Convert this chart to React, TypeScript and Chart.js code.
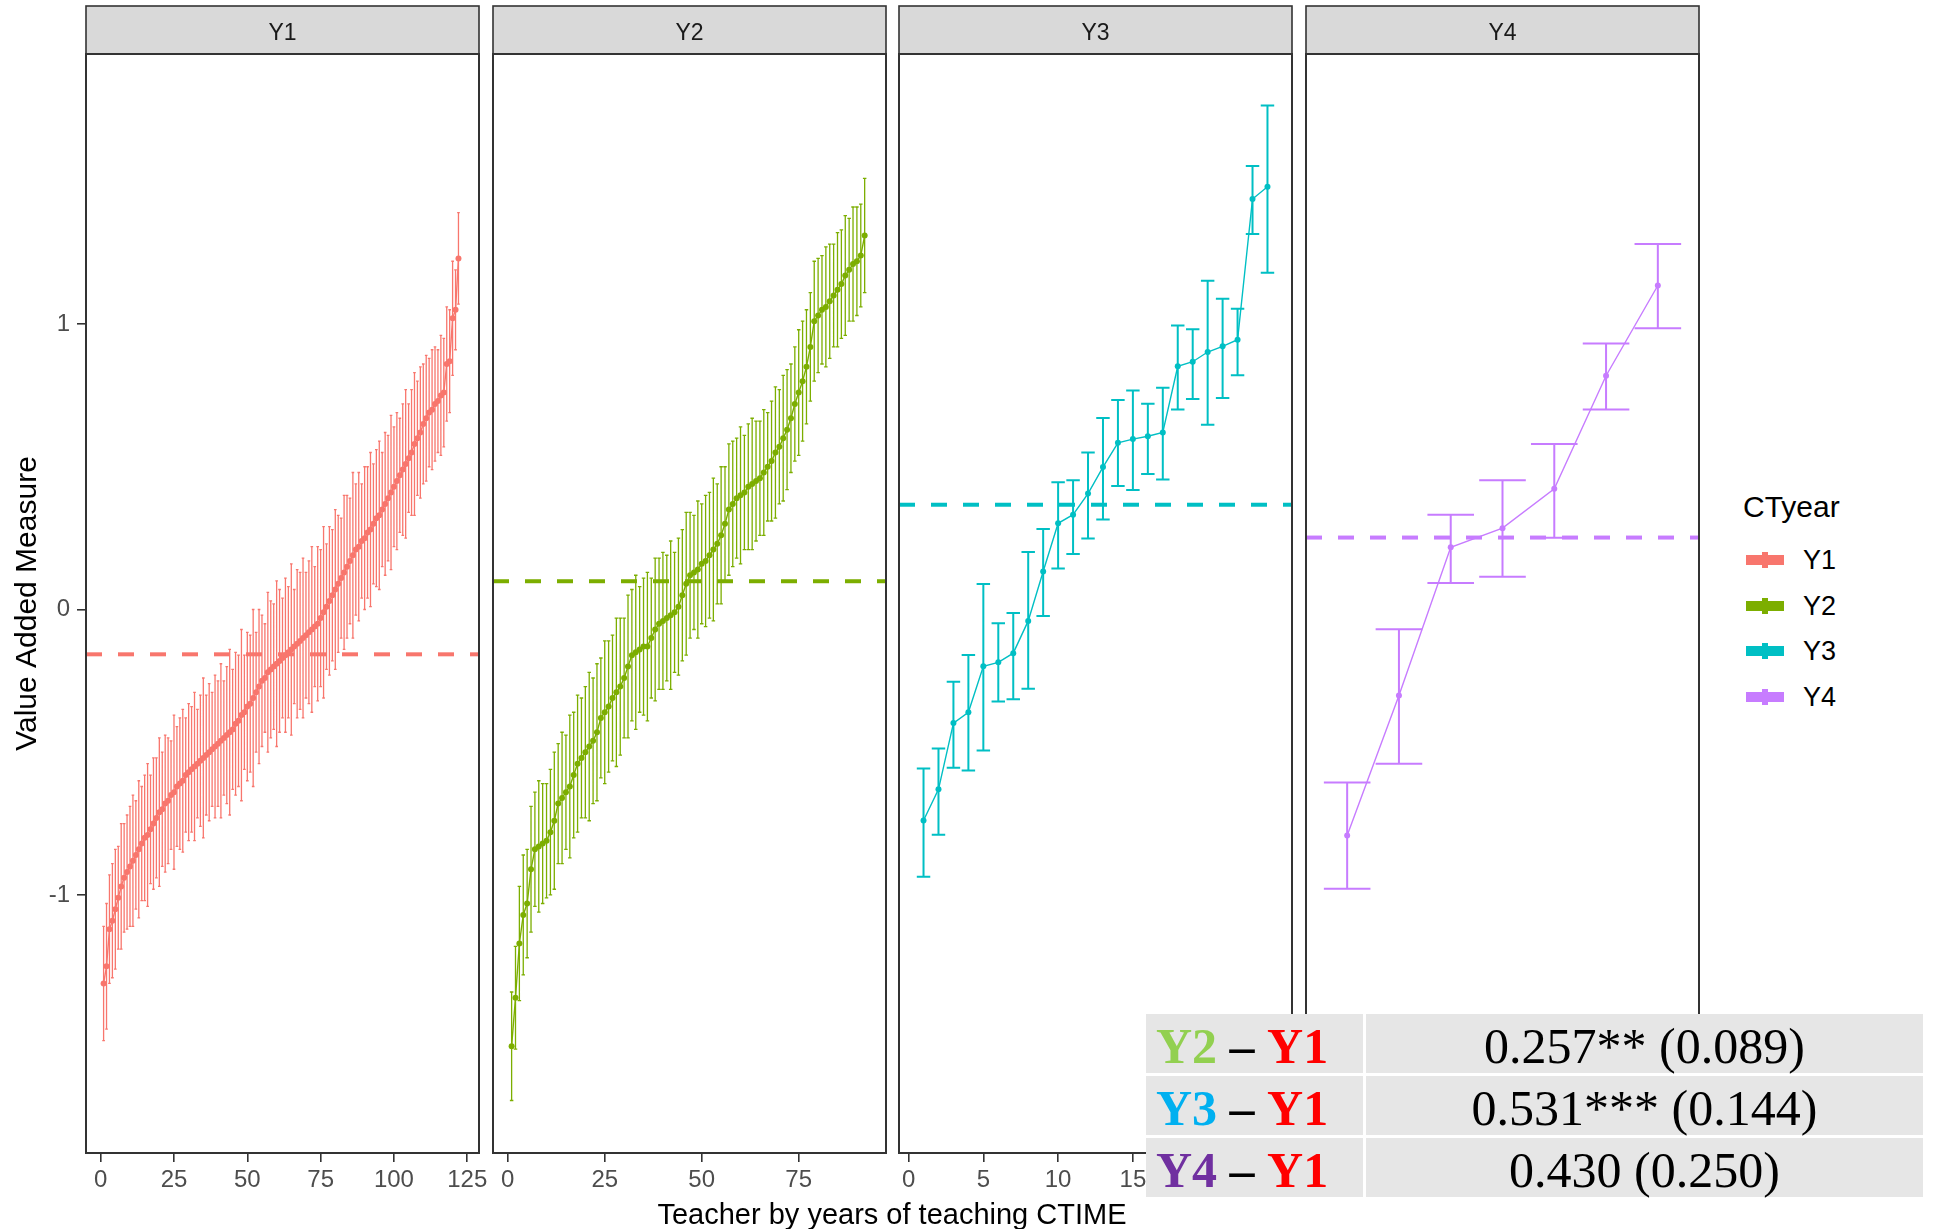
import React, { useEffect, useRef } from "react";
import { Chart, registerables } from "chart.js";

Chart.register(...registerables);

const SANS = "'Liberation Sans', Arial, Helvetica, sans-serif";
const SERIF = "'Liberation Serif', 'Times New Roman', Times, serif";
Chart.defaults.font.family = SANS;

// ---------------- data ----------------
const PANEL_NAMES = ["Y1", "Y2", "Y3", "Y4"];
const SERIES_COLORS = ["#F8766D", "#7CAE00", "#00BFC4", "#C77CFF"];

const Y1_VALUES = [
  -1.31, -1.25, -1.12, -1.09, -1.05, -1.01, -0.97, -0.94, -0.92, -0.9,
  -0.88, -0.86, -0.84, -0.82, -0.8, -0.79, -0.77, -0.75, -0.73, -0.71,
  -0.7, -0.68, -0.67, -0.65, -0.64, -0.62, -0.61, -0.6, -0.58, -0.57,
  -0.56, -0.55, -0.54, -0.53, -0.52, -0.51, -0.5, -0.49, -0.48, -0.47,
  -0.46, -0.45, -0.44, -0.43, -0.42, -0.4, -0.39, -0.37, -0.36, -0.34,
  -0.33, -0.31, -0.29, -0.27, -0.25, -0.24, -0.22, -0.21, -0.2, -0.19,
  -0.18, -0.17, -0.16, -0.15, -0.14, -0.13, -0.12, -0.11, -0.1, -0.09,
  -0.08, -0.07, -0.06, -0.05, -0.03, -0.01, 0.01, 0.03, 0.05, 0.07,
  0.09, 0.11, 0.13, 0.15, 0.17, 0.19, 0.21, 0.22, 0.24, 0.25,
  0.27, 0.28, 0.3, 0.32, 0.33, 0.35, 0.37, 0.39, 0.41, 0.43,
  0.45, 0.47, 0.49, 0.51, 0.53, 0.55, 0.58, 0.6, 0.62, 0.65,
  0.67, 0.69, 0.7, 0.72, 0.73, 0.75, 0.76, 0.86, 0.87, 1.02,
  1.05, 1.23,
];
const Y1_SE = [
  0.2, 0.22, 0.19, 0.2, 0.21, 0.18, 0.22, 0.19, 0.2, 0.21,
  0.23, 0.19, 0.24, 0.2, 0.22, 0.25, 0.19, 0.23, 0.21, 0.26,
  0.2, 0.24, 0.22, 0.19, 0.27, 0.21, 0.23, 0.25, 0.2, 0.24,
  0.22, 0.26, 0.19, 0.23, 0.28, 0.21, 0.24, 0.2, 0.25, 0.22,
  0.27, 0.2, 0.24, 0.29, 0.21, 0.25, 0.23, 0.3, 0.2, 0.26,
  0.24, 0.31, 0.21, 0.27, 0.23, 0.19, 0.28, 0.24, 0.22, 0.29,
  0.25, 0.21, 0.27, 0.23, 0.3, 0.2, 0.26, 0.24, 0.28, 0.22,
  0.25, 0.29, 0.21, 0.27, 0.24, 0.3, 0.22, 0.26, 0.23, 0.28,
  0.24, 0.21, 0.27, 0.25, 0.22, 0.29, 0.23, 0.26, 0.2, 0.25,
  0.23, 0.27, 0.21, 0.24, 0.26, 0.2, 0.25, 0.22, 0.27, 0.21,
  0.24, 0.2, 0.23, 0.26, 0.19, 0.22, 0.25, 0.2, 0.23, 0.21,
  0.22, 0.19, 0.21, 0.2, 0.18, 0.21, 0.19, 0.2, 0.18, 0.2,
  0.14, 0.16,
];

const Y2_VALUES = [
  -1.53, -1.36, -1.17, -1.07, -1.03, -0.91, -0.84, -0.83, -0.82, -0.81,
  -0.78, -0.74, -0.68, -0.66, -0.64, -0.62, -0.58, -0.54, -0.52, -0.5,
  -0.48, -0.46, -0.43, -0.38, -0.36, -0.34, -0.31, -0.29, -0.27, -0.24,
  -0.2, -0.16, -0.15, -0.14, -0.13, -0.13, -0.1, -0.07, -0.05, -0.04,
  -0.03, -0.02, -0.01, 0.01, 0.05, 0.09, 0.12, 0.13, 0.14, 0.16,
  0.17, 0.19, 0.21, 0.23, 0.26, 0.3, 0.35, 0.37, 0.39, 0.4,
  0.41, 0.43, 0.44, 0.45, 0.46, 0.48, 0.5, 0.52, 0.55, 0.57,
  0.6, 0.63, 0.67, 0.72, 0.76, 0.8, 0.85, 0.92, 1.01, 1.03,
  1.05, 1.06, 1.08, 1.1, 1.12, 1.14, 1.17, 1.19, 1.21, 1.22,
  1.24, 1.31,
];
const Y2_SE = [
  0.19, 0.18, 0.2, 0.21, 0.19, 0.22, 0.2, 0.23, 0.21, 0.2,
  0.22, 0.24, 0.21, 0.23, 0.2, 0.25, 0.22, 0.24, 0.21, 0.23,
  0.26, 0.22, 0.24, 0.21, 0.25, 0.23, 0.22, 0.26, 0.24, 0.21,
  0.25, 0.23, 0.27, 0.22, 0.24, 0.26, 0.21, 0.25, 0.23, 0.24,
  0.22, 0.26, 0.21, 0.24, 0.23, 0.25, 0.22, 0.2, 0.24, 0.21,
  0.23, 0.22, 0.25, 0.21, 0.24, 0.2, 0.23, 0.22, 0.21, 0.24,
  0.2, 0.22, 0.23, 0.21, 0.2, 0.22, 0.19, 0.21, 0.23, 0.2,
  0.22, 0.21, 0.19, 0.2, 0.22, 0.21, 0.2, 0.19, 0.21, 0.2,
  0.19, 0.21, 0.2, 0.18, 0.2, 0.19, 0.21, 0.18, 0.2, 0.19,
  0.18, 0.2,
];

const Y3_VALUES = [
  -0.739, -0.63, -0.398, -0.36, -0.199, -0.185, -0.153, -0.04, 0.133, 0.302,
  0.332, 0.406, 0.499, 0.584, 0.597, 0.607, 0.62, 0.852, 0.868, 0.902,
  0.922, 0.945, 1.438, 1.481,
];
const Y3_LOWER = [
  -0.936, -0.789, -0.554, -0.564, -0.494, -0.322, -0.314, -0.278, -0.023, 0.144,
  0.194, 0.249, 0.315, 0.433, 0.419, 0.475, 0.455, 0.701, 0.737, 0.647,
  0.741, 0.821, 1.315, 1.18,
];
const Y3_UPPER = [
  -0.557, -0.487, -0.253, -0.159, 0.089, -0.048, -0.012, 0.201, 0.282, 0.446,
  0.453, 0.55, 0.671, 0.734, 0.767, 0.721, 0.777, 0.995, 0.982, 1.152,
  1.089, 1.054, 1.554, 1.766,
];

const Y4_VALUES = [-0.792, -0.301, 0.218, 0.285, 0.423, 0.819, 1.135];
const Y4_LOWER = [-0.978, -0.54, 0.093, 0.115, 0.251, 0.701, 0.985];
const Y4_UPPER = [-0.606, -0.069, 0.332, 0.453, 0.58, 0.932, 1.28];

const GROUP_MEANS = [-0.157, 0.099, 0.367, 0.252];

const Y_TICKS = [-1, 0, 1];
const X_TICKS = [
  [0, 25, 50, 75, 100, 125],
  [0, 25, 50, 75],
  [0, 5, 10, 15, 20],
  [2, 4, 6],
];
const X_LIMITS = [
  [-5.0, 129.0],
  [-3.8, 97.5],
  [-0.64, 25.64],
  [0.205, 7.795],
];
const Y_LIMITS = [-1.904, 1.946];
const ERRORBAR_WIDTH = 0.9;

const Y_TITLE = "Value Added Measure";
const X_TITLE = "Teacher by years of teaching CTIME";
const LEGEND_TITLE = "CTyear";

const TABLE_LEFT = ["Y2", "Y3", "Y4"];
const TABLE_BASE = "Y1";
const TABLE_VALUES = ["0.257** (0.089)", "0.531*** (0.144)", "0.430 (0.250)"];
const TABLE_COLORS = ["#92D050", "#00B0F0", "#7030A0"];
const TABLE_BASE_COLOR = "#FF0000";

// derived series tables
const SERIES = [
  {
    values: Y1_VALUES,
    lower: Y1_VALUES.map((v, i) => v - Y1_SE[i]),
    upper: Y1_VALUES.map((v, i) => v + Y1_SE[i]),
  },
  {
    values: Y2_VALUES,
    lower: Y2_VALUES.map((v, i) => v - Y2_SE[i]),
    upper: Y2_VALUES.map((v, i) => v + Y2_SE[i]),
  },
  { values: Y3_VALUES, lower: Y3_LOWER, upper: Y3_UPPER },
  { values: Y4_VALUES, lower: Y4_LOWER, upper: Y4_UPPER },
];

// ---------------- layout ----------------
const W = 1933;
const H = 1229;
const PANEL_LEFT = [86, 493, 899, 1306];
const PANEL_W = 393;
const STRIP_TOP = 6;
const PLOT_TOP = 54;
const PLOT_BOTTOM = 1153;
const SIDE_PAD = 25;
const Y_AXIS_W = 86;

function Panel({ k }: { k: number }) {
  const ref = useRef<HTMLCanvasElement | null>(null);
  const canvasLeft = k === 0 ? 0 : PANEL_LEFT[k] - SIDE_PAD;
  const canvasW = k === 0 ? PANEL_LEFT[0] + PANEL_W + SIDE_PAD : PANEL_W + 2 * SIDE_PAD;

  useEffect(() => {
    const canvas = ref.current;
    if (!canvas) return;
    const color = SERIES_COLORS[k];
    const s = SERIES[k];
    const [xmin, xmax] = X_LIMITS[k];

    const framePlugin = {
      id: "frame" + k,
      afterDatasetsDraw(chart: any) {
        const { ctx, chartArea, scales } = chart;
        const x = scales.x;
        const y = scales.y;
        ctx.save();
        ctx.beginPath();
        ctx.rect(chartArea.left, chartArea.top, chartArea.right - chartArea.left, chartArea.bottom - chartArea.top);
        ctx.clip();
        ctx.strokeStyle = color;
        ctx.lineWidth = k < 2 ? 1.3 : 2;
        ctx.beginPath();
        s.values.forEach((_v: number, i: number) => {
          const xv = i + 1;
          const px = x.getPixelForValue(xv);
          const pl = x.getPixelForValue(xv - ERRORBAR_WIDTH / 2);
          const pr = x.getPixelForValue(xv + ERRORBAR_WIDTH / 2);
          const pLo = y.getPixelForValue(s.lower[i]);
          const pHi = y.getPixelForValue(s.upper[i]);
          ctx.moveTo(px, pLo);
          ctx.lineTo(px, pHi);
          ctx.moveTo(pl, pLo);
          ctx.lineTo(pr, pLo);
          ctx.moveTo(pl, pHi);
          ctx.lineTo(pr, pHi);
        });
        ctx.stroke();
        ctx.restore();
      },
      afterDraw(chart: any) {
        const { ctx, chartArea } = chart;
        const l = chartArea.left;
        const r = chartArea.right;
        ctx.save();
        // strip
        ctx.fillStyle = "#D9D9D9";
        ctx.fillRect(l, STRIP_TOP, r - l, PLOT_TOP - STRIP_TOP);
        ctx.strokeStyle = "#333333";
        ctx.lineWidth = 1.6;
        ctx.strokeRect(l, STRIP_TOP, r - l, PLOT_TOP - STRIP_TOP);
        ctx.fillStyle = "#1A1A1A";
        ctx.font = `23px ${SANS}`;
        ctx.textAlign = "center";
        ctx.textBaseline = "middle";
        ctx.fillText(PANEL_NAMES[k], (l + r) / 2, (STRIP_TOP + PLOT_TOP) / 2 + 4);
        // panel border
        ctx.lineWidth = 2;
        ctx.strokeRect(l, chartArea.top, r - l, chartArea.bottom - chartArea.top);
        ctx.restore();
      },
    };

    const chart = new Chart(canvas, {
      type: "line",
      data: {
        datasets: [
          {
            data: [
              { x: xmin, y: GROUP_MEANS[k] },
              { x: xmax, y: GROUP_MEANS[k] },
            ],
            borderColor: color,
            borderWidth: 4,
            borderDash: [16, 16],
            pointRadius: 0,
            fill: false,
          },
          {
            data: s.values.map((v, i) => ({ x: i + 1, y: v })),
            borderColor: color,
            backgroundColor: color,
            borderWidth: 1.4,
            pointRadius: 3,
            pointBorderWidth: 0,
            pointBackgroundColor: color,
            tension: 0,
            fill: false,
          },
        ],
      },
      options: {
        animation: false,
        responsive: false,
        maintainAspectRatio: false,
        events: [],
        layout: {
          padding: {
            top: PLOT_TOP,
            bottom: 0,
            left: k === 0 ? 0 : SIDE_PAD,
            right: SIDE_PAD,
          },
        },
        plugins: {
          legend: { display: false },
          tooltip: { enabled: false },
          title: { display: false },
        },
        scales: {
          x: {
            type: "linear",
            min: xmin,
            max: xmax,
            afterBuildTicks: (sc: any) => {
              sc.ticks = X_TICKS[k].map((v) => ({ value: v }));
            },
            afterFit: (sc: any) => {
              sc.height = H - PLOT_BOTTOM;
            },
            border: { display: false },
            grid: {
              drawOnChartArea: false,
              drawTicks: true,
              tickLength: 9,
              color: "#333333",
              lineWidth: 1.6,
            },
            ticks: {
              autoSkip: false,
              maxRotation: 0,
              padding: 4,
              color: "#4D4D4D",
              font: { size: 24, family: SANS },
            },
          },
          y: {
            type: "linear",
            display: k === 0,
            min: Y_LIMITS[0],
            max: Y_LIMITS[1],
            afterBuildTicks: (sc: any) => {
              sc.ticks = Y_TICKS.map((v) => ({ value: v }));
            },
            afterFit: (sc: any) => {
              sc.width = k === 0 ? Y_AXIS_W : 0;
            },
            border: { display: false },
            grid: {
              drawOnChartArea: false,
              drawTicks: true,
              tickLength: 9,
              color: "#333333",
              lineWidth: 1.6,
            },
            ticks: {
              padding: 7,
              color: "#4D4D4D",
              font: { size: 24, family: SANS },
            },
            title: {
              display: true,
              text: Y_TITLE,
              color: "#000000",
              font: { size: 30, family: SANS },
              padding: { top: 10, bottom: 0 },
            },
          },
        },
      },
      plugins: [framePlugin],
    } as any);
    return () => chart.destroy();
  }, [k]);

  return (
    <canvas
      ref={ref}
      width={canvasW}
      height={H}
      style={{ position: "absolute", left: canvasLeft, top: 0, width: canvasW, height: H }}
    />
  );
}

function Legend() {
  return (
    <>
      <div
        style={{
          position: "absolute",
          left: 1743,
          top: 489,
          fontSize: 30,
          lineHeight: "36px",
          color: "#000",
          fontFamily: SANS,
          whiteSpace: "nowrap",
        }}
      >
        {LEGEND_TITLE}
      </div>
      {PANEL_NAMES.map((name, i) => {
        const cy = 560 + i * 45.7;
        return (
          <React.Fragment key={name}>
            <div
              style={{
                position: "absolute",
                left: 1746,
                top: cy - 5,
                width: 38,
                height: 10,
                background: SERIES_COLORS[i],
              }}
            />
            <div
              style={{
                position: "absolute",
                left: 1762,
                top: cy - 8,
                width: 6,
                height: 16,
                background: SERIES_COLORS[i],
              }}
            />
            <div
              style={{
                position: "absolute",
                left: 1803,
                top: cy - 17,
                fontSize: 27,
                lineHeight: "34px",
                color: "#000",
                fontFamily: SANS,
                whiteSpace: "nowrap",
              }}
            >
              {name}
            </div>
          </React.Fragment>
        );
      })}
    </>
  );
}

function ResultTable() {
  return (
    <div style={{ position: "absolute", left: 1146, top: 1014, width: 777, background: "#FFFFFF" }}>
      {TABLE_LEFT.map((lab, i) => (
        <div key={lab} style={{ display: "flex", height: 59, marginBottom: i < TABLE_LEFT.length - 1 ? 3 : 0 }}>
          <div
            style={{
              width: 217,
              marginRight: 3,
              background: "#E6E6E6",
              display: "flex",
              alignItems: "center",
              paddingLeft: 10,
              boxSizing: "border-box",
              fontFamily: SERIF,
              fontWeight: "bold",
              fontSize: 50,
              lineHeight: 1,
              paddingTop: 4,
              whiteSpace: "nowrap",
            }}
          >
            <span style={{ color: TABLE_COLORS[i] }}>{lab}</span>
            <span style={{ color: "#000" }}>&nbsp;–&nbsp;</span>
            <span style={{ color: TABLE_BASE_COLOR }}>{TABLE_BASE}</span>
          </div>
          <div
            style={{
              flex: 1,
              background: "#E6E6E6",
              display: "flex",
              alignItems: "center",
              justifyContent: "center",
              fontFamily: SERIF,
              fontSize: 50,
              lineHeight: 1,
              paddingTop: 4,
              boxSizing: "border-box",
              color: "#000",
              whiteSpace: "nowrap",
            }}
          >
            {TABLE_VALUES[i]}
          </div>
        </div>
      ))}
    </div>
  );
}

export default function App() {
  return (
    <div
      style={{
        position: "absolute",
        left: 0,
        top: 0,
        width: W,
        height: H,
        background: "#FFFFFF",
        overflow: "hidden",
      }}
    >
      {PANEL_NAMES.map((_n, k) => (
        <Panel key={k} k={k} />
      ))}
      <div
        style={{
          position: "absolute",
          left: 892 - 400,
          width: 800,
          top: 1196,
          textAlign: "center",
          fontFamily: SANS,
          fontSize: 29,
          lineHeight: "36px",
          color: "#000",
          whiteSpace: "nowrap",
        }}
      >
        {X_TITLE}
      </div>
      <Legend />
      <ResultTable />
    </div>
  );
}
